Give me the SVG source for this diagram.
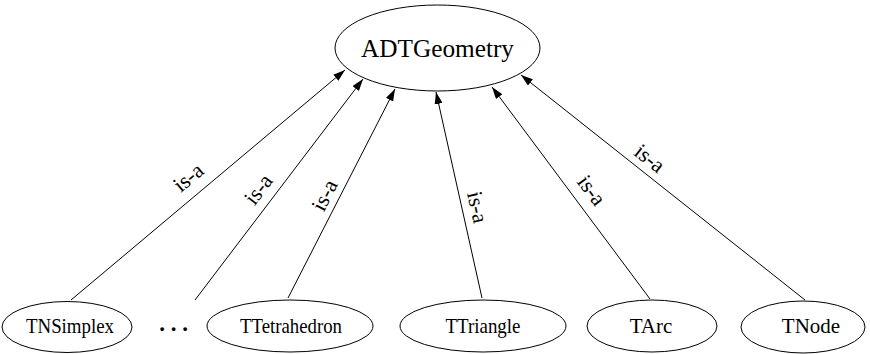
<svg xmlns="http://www.w3.org/2000/svg" width="870" height="354" viewBox="0 0 870 354">
<defs>
<style>
.n ellipse{fill:#fff;stroke:#000;stroke-width:1}
text{font-family:'Liberation Serif','Times New Roman',serif;fill:#000;text-anchor:middle}
.t{font-size:21px}
.big{font-size:25px}
.e line{stroke:#000;stroke-width:1;fill:none;marker-end:url(#arr)}
.lbl{font-size:22px}
</style>
<marker id="arr" viewBox="0 0 12 8" refX="12" refY="4" markerWidth="12" markerHeight="8" markerUnits="userSpaceOnUse" orient="auto">
<path d="M0,0 L12,4 L0,8 z" fill="#000"/>
</marker>
</defs>
<rect width="870" height="354" fill="#fff"/>
<g id="connectors" class="e">
<line x1="71" y1="300" x2="345" y2="70"/>
<line x1="195" y1="300" x2="363" y2="79"/>
<line x1="288" y1="298" x2="395" y2="89"/>
<line x1="482" y1="298" x2="436" y2="92"/>
<line x1="650" y1="299" x2="492" y2="87"/>
<line x1="805" y1="300" x2="521" y2="75"/>
</g>
<g id="labels">
<text class="lbl" transform="translate(188,177) rotate(-40)" dy="0.35em">is-a</text>
<text class="lbl" transform="translate(258,189) rotate(-52.8)" dy="0.35em">is-a</text>
<text class="lbl" transform="translate(324,195) rotate(-62.9)" dy="0.35em">is-a</text>
<text class="lbl" transform="translate(478,207) rotate(77.4)" dy="0.35em">is-a</text>
<text class="lbl" transform="translate(592,190) rotate(53.3)" dy="0.35em">is-a</text>
<text class="lbl" transform="translate(650,158) rotate(38.4)" dy="0.35em">is-a</text>
</g>
<g id="ADTGeometry" class="n">
<ellipse cx="437.5" cy="48" rx="102.5" ry="43"/>
<text class="big" x="437.5" y="57" textLength="153" lengthAdjust="spacingAndGlyphs">ADTGeometry</text>
</g>
<g id="TNSimplex" class="n">
<ellipse cx="67" cy="327" rx="65" ry="25.5"/>
<text class="t" x="70" y="333" textLength="88" lengthAdjust="spacingAndGlyphs">TNSimplex</text>
</g>
<g id="dots" class="n">
<text x="173.5" y="331" font-size="23" font-weight="bold">. . .</text>
</g>
<g id="TTetrahedron" class="n">
<ellipse cx="290" cy="326" rx="83" ry="26"/>
<text class="t" x="291" y="333" textLength="102" lengthAdjust="spacingAndGlyphs">TTetrahedron</text>
</g>
<g id="TTriangle" class="n">
<ellipse cx="483" cy="326" rx="83" ry="26"/>
<text class="t" x="483" y="333" textLength="75" lengthAdjust="spacingAndGlyphs">TTriangle</text>
</g>
<g id="TArc" class="n">
<ellipse cx="652" cy="326" rx="65" ry="26"/>
<text class="t" x="651" y="333">TArc</text>
</g>
<g id="TNode" class="n">
<ellipse cx="803" cy="327" rx="62" ry="26"/>
<text class="t" x="811" y="333">TNode</text>
</g>
</svg>
